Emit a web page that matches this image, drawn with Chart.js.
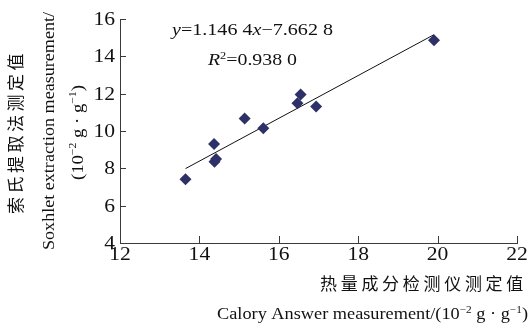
<!DOCTYPE html>
<html>
<head>
<meta charset="utf-8">
<script src="https://cdn.jsdelivr.net/npm/chart.js@4.4.1/dist/chart.umd.min.js"></script>
<style>
  html, body { margin: 0; padding: 0; background: #fff; }
  #wrap { width: 532px; height: 324px; }
</style>
</head>
<body>
<div id="wrap"><canvas id="chart" width="532" height="324"></canvas></div>
<script>
// values
const xValues = [13.65, 14.37, 14.38, 14.42, 15.14, 15.61, 16.47, 16.55, 16.94, 19.91]
const yValues = [7.42, 9.31, 8.35, 8.5, 10.67, 10.15, 11.49, 11.95, 11.31, 14.86]
const xTicks = [12, 14, 16, 18, 20, 22]
const yTicks = [4, 6, 8, 10, 12, 14, 16]
const slope = 1.1464
const intercept = -7.6628
const fitRange = [13.65, 19.91]

const serif = '"Liberation Serif", "Times New Roman", serif'
const cjk = '"Noto Sans CJK SC", sans-serif'
const axisColor = '#3a3a3a'
const textColor = '#111'
const numStretch = 1.2

var points = xValues.map((x, i) => ({x: x, y: yValues[i]}))
var fitLine = fitRange.map(x => ({x: x, y: slope * x + intercept}))

function setFont(ctx, r, size){
    let s = r.sup ? size * 0.62 : size
    ctx.font = (r.italic ? 'italic ' : '') + s + 'px ' + serif
}
function runsWidth(ctx, runs, size){
    let w = 0
    runs.forEach(r => { setFont(ctx, r, size); w += ctx.measureText(r.t).width })
    return w
}
// draw runs starting at x, stretched horizontally by sx
function drawRuns(ctx, runs, x, y, size, sx){
    ctx.save()
    ctx.translate(x, y)
    ctx.scale(sx, 1)
    let cx = 0
    runs.forEach(r => {
        setFont(ctx, r, size)
        ctx.fillText(r.t, cx, r.sup ? -size * 0.4 : 0)
        cx += ctx.measureText(r.t).width
    })
    ctx.restore()
}
// fit runs between x0 and x1
function drawFit(ctx, runs, x0, x1, y, size){
    let w = runsWidth(ctx, runs, size)
    drawRuns(ctx, runs, x0, y, size, (x1 - x0) / w)
}
function drawCjk(ctx, text, x, y, size, step){
    ctx.font = size + 'px ' + cjk
    for (let i = 0; i < text.length; i++) ctx.fillText(text[i], x + i * step, y)
}
function drawNumber(ctx, text, x, y, size, align){
    ctx.font = size + 'px ' + serif
    let w = ctx.measureText(text).width * numStretch
    let x0 = align === 'right' ? x - w : x - w / 2
    drawRuns(ctx, [{t: text}], x0, y, size, numStretch)
}

const unitRuns = [{t: '(10'}, {t: '−2', sup: true}, {t: ' g · g'}, {t: '−1', sup: true}, {t: ')'}]

const decorations = {
    id: 'decorations',
    afterDraw(chart){
        const ctx = chart.ctx
        const xs = chart.scales.x, ys = chart.scales.y
        ctx.save()
        // inward ticks
        ctx.strokeStyle = axisColor
        ctx.lineWidth = 1
        ctx.beginPath()
        xTicks.forEach(v => {
            let px = Math.round(xs.getPixelForValue(v)) + 0.5
            ctx.moveTo(px, ys.bottom)
            ctx.lineTo(px, ys.bottom - 7)
        })
        yTicks.forEach(v => {
            let py = Math.round(ys.getPixelForValue(v)) + 0.5
            ctx.moveTo(xs.left, py)
            ctx.lineTo(xs.left + 6, py)
        })
        ctx.stroke()

        ctx.fillStyle = textColor
        ctx.textBaseline = 'alphabetic'
        ctx.textAlign = 'left'

        // tick labels
        xTicks.forEach(v => drawNumber(ctx, String(v), xs.getPixelForValue(v), ys.bottom + 17, 18, 'center'))
        yTicks.forEach(v => drawNumber(ctx, String(v), xs.left - 5, ys.getPixelForValue(v) + 6, 18, 'right'))

        // regression text
        drawFit(ctx, [{t: 'y', italic: true}, {t: '=1.146 4'}, {t: 'x', italic: true}, {t: '−7.662 8'}], 172, 333, 35, 16)
        drawFit(ctx, [{t: 'R', italic: true}, {t: '2', sup: true}, {t: '=0.938 0'}], 208, 297, 65, 16)

        // x titles
        drawCjk(ctx, '热量成分检测仪测定值', 320, 290, 17, 20.7)
        drawFit(ctx, [{t: 'Calory Answer measurement/'}].concat(unitRuns), 217, 528, 319, 16)

        // y titles, rotated
        ctx.save()
        ctx.rotate(-Math.PI / 2)
        drawCjk(ctx, '索氏提取法测定值', -214, 22, 17, 20.5)
        drawFit(ctx, [{t: 'Soxhlet extraction measurement/'}], -250, -12, 54, 17)
        drawFit(ctx, unitRuns, -180, -85, 83, 17)
        ctx.restore()
        ctx.restore()
    }
}

new Chart(document.getElementById('chart'), {
    type: 'scatter',
    data: {
        datasets: [{
            data: points,
            pointStyle: 'rectRot',
            pointRadius: 6,
            backgroundColor: '#2D3168',
            borderColor: '#2D3168',
            borderWidth: 0
        }, {
            type: 'line',
            data: fitLine,
            borderColor: '#111',
            borderWidth: 1,
            pointRadius: 0,
            fill: false
        }]
    },
    options: {
        responsive: false,
        animation: false,
        events: [],
        layout: {padding: {left: 0, top: 19, right: 15, bottom: 0}, autoPadding: false},
        plugins: {legend: {display: false}, tooltip: {enabled: false}},
        scales: {
            x: {
                type: 'linear', min: 12, max: 22,
                afterBuildTicks: s => { s.ticks = xTicks.map(v => ({value: v})) },
                afterFit: s => { s.height = 81 },
                grid: {display: false},
                border: {display: true, color: axisColor, width: 1},
                ticks: {display: false}
            },
            y: {
                type: 'linear', min: 4, max: 16,
                afterBuildTicks: s => { s.ticks = yTicks.map(v => ({value: v})) },
                afterFit: s => { s.width = 120 },
                grid: {display: false},
                border: {display: true, color: axisColor, width: 1},
                ticks: {display: false}
            }
        }
    },
    plugins: [decorations]
})
</script>
</body>
</html>
